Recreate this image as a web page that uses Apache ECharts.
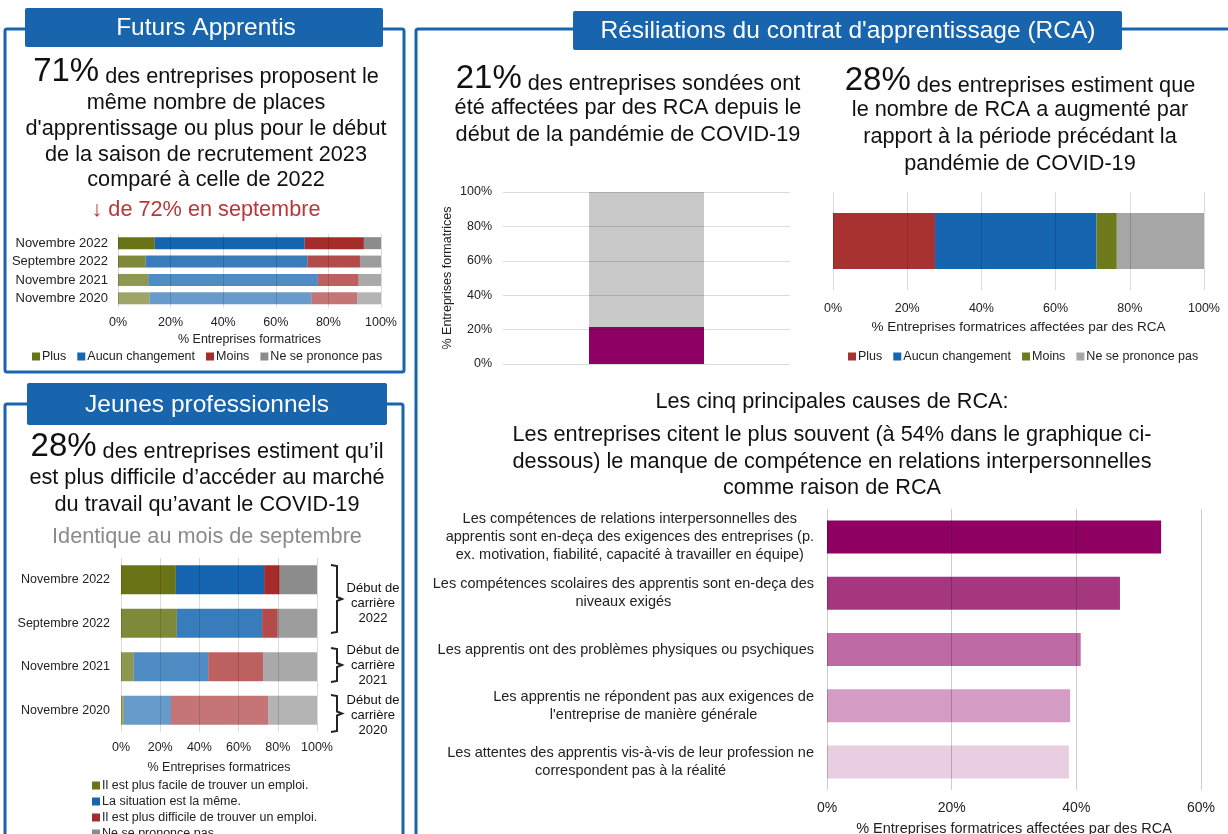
<!DOCTYPE html>
<html><head><meta charset="utf-8">
<script src="https://cdn.jsdelivr.net/npm/echarts@6/dist/echarts.min.js"></script>
<style>html,body{margin:0;padding:0;background:#fff}#c{width:1228px;height:834px}</style>
</head><body><div id="c"></div>
<script>
// ---------- DATA ----------
const periodCategories = ['Novembre 2022', 'Septembre 2022', 'Novembre 2021', 'Novembre 2020'];
const pctTicks = [0, 20, 40, 60, 80, 100];

// Futurs Apprentis
const faNames = ['Plus', 'Aucun changement', 'Moins', 'Ne se prononce pas'];
const faPlus  = [14, 10.5, 11.5, 12];
const faAucun = [57, 61.5, 64.5, 61.5];
const faMoins = [22.5, 20, 15.5, 17.5];
const faNsp   = [6.5, 8, 8.5, 9];

// Jeunes professionnels
const jpNames = ['Il est plus facile de trouver un emploi.', 'La situation est la même.', 'Il est plus difficile de trouver un emploi.', 'Ne se prononce pas.'];
const jpFacile    = [28, 28.5, 6.5, 1.5];
const jpMeme      = [45, 43.5, 38, 24];
const jpDifficile = [8, 8, 28, 49.5];
const jpNsp       = [19, 20, 27.5, 25];
const jpGroups = ['Début de\ncarrière\n2022', 'Début de\ncarrière\n2021', 'Début de\ncarrière\n2020'];

// RCA affectées
const rcaAffCategory = ['RCA'];
const rcaAffectees = [21.5];
const rcaNonAffectees = [78.5];

// Evolution du nombre de RCA
const rcaEvoNames = ['Plus', 'Aucun changement', 'Moins', 'Ne se prononce pas'];
const rcaEvoCategory = ['RCA'];
const rcaPlus  = [27.5];
const rcaAucun = [43.5];
const rcaMoins = [5.5];
const rcaNsp   = [23.5];

// Causes de RCA
const causesLabels = [
  'Les compétences de relations interpersonnelles des\napprentis sont en-deça des exigences des entreprises (p.\nex. motivation, fiabilité, capacité à travailler en équipe)',
  'Les compétences scolaires des apprentis sont en-deça des\nniveaux exigés',
  'Les apprentis ont des problèmes physiques ou psychiques',
  'Les apprentis ne répondent pas aux exigences de\nl\'entreprise de manière générale',
  'Les attentes des apprentis vis-à-vis de leur profession ne\ncorrespondent pas à la réalité'
];
const causesValues = [53.6, 47, 40.7, 39, 38.8];

// ---------- STYLE ----------
const FONT = '"Liberation Sans", Arial, sans-serif';
const BLUE = '#1865ad';
const OLIVE = '#6a7416', SBLUE = '#1565b0', RED = '#a62b2b', GREY = '#8c8c8c';
const rowOpacity = [1, 0.85, 0.75, 0.65];
const causeColors = ['#8e0062', '#a5377f', '#bd6aa5', '#d49cc4', '#e9cde1'];
const gridLine = {lineStyle: {color: 'rgba(0,0,0,0.14)', width: 1}};
const BODY = 21.7, HEAD = 24.5;

function rowItems(arr, color) {
  return arr.map((v, i) => ({value: v, itemStyle: {color: color, opacity: rowOpacity[i]}}));
}
function pctAxis(grid, extra) {
  return Object.assign({
    gridIndex: grid, type: 'value', min: 0, max: 100, interval: 20, z: 5,
    axisLine: {show: false}, axisTick: {show: false},
    splitLine: gridLine,
    axisLabel: {formatter: v => pctTicks.includes(v) ? v + '%' : '', fontSize: 12.5, color: '#222', fontFamily: FONT},
    nameTextStyle: {fontSize: 12.5, color: '#222', fontFamily: FONT}
  }, extra || {});
}

const chart = echarts.init(document.getElementById('c'), null, {renderer: 'canvas'});

function txt(x, y, text, size, color, lh) {
  const st = {x: x, y: y, text: text, fontSize: size, fontFamily: FONT, fill: color || '#111', align: 'center', verticalAlign: 'middle'};
  if (lh) st.lineHeight = lh;
  return {type: 'text', z: 10, style: st};
}
function bigLine(x, y, big, rest) {
  return {type: 'text', z: 10, style: {x: x, y: y, align: 'center', verticalAlign: 'middle',
    text: '{b|' + big + '}{n| ' + rest + '}',
    rich: {b: {fontSize: 33, fontFamily: FONT, fill: '#111', lineHeight: 36, verticalAlign: 'bottom'},
           n: {fontSize: BODY, fontFamily: FONT, fill: '#111', lineHeight: 30, verticalAlign: 'bottom'}}}};
}
function bracket(x, y1, y2) {
  const m = (y1 + y2) / 2;
  return {type: 'polyline', z: 10, shape: {points: [[x, y1], [x + 6, y1 + 1], [x + 6, m - 2], [x + 11, m], [x + 6, m + 2], [x + 6, y2 - 1], [x, y2]]},
    style: {stroke: '#222', lineWidth: 2, fill: null}};
}

const graphics = [
  // panels
  {type: 'rect', z: 1, shape: {x: 5, y: 29, width: 399, height: 343, r: 2}, style: {fill: null, stroke: BLUE, lineWidth: 3}},
  {type: 'rect', z: 1, shape: {x: 5, y: 404, width: 398, height: 460, r: 2}, style: {fill: null, stroke: BLUE, lineWidth: 3}},
  {type: 'rect', z: 1, shape: {x: 416, y: 29, width: 840, height: 840, r: 2}, style: {fill: null, stroke: BLUE, lineWidth: 3}},
  // headers
  {type: 'rect', z: 2, shape: {x: 25, y: 8, width: 358, height: 39, r: 2}, style: {fill: BLUE}},
  {type: 'rect', z: 2, shape: {x: 27, y: 383, width: 360, height: 42, r: 2}, style: {fill: BLUE}},
  {type: 'rect', z: 2, shape: {x: 573, y: 11, width: 549, height: 39, r: 2}, style: {fill: BLUE}},
  txt(206, 28, 'Futurs Apprentis', HEAD, '#fff'),
  txt(207, 405, 'Jeunes professionnels', HEAD, '#fff'),
  txt(848, 31, 'Résiliations du contrat d\'apprentissage (RCA)', HEAD, '#fff'),
  // Futurs apprentis text
  bigLine(206, 70, '71%', 'des entreprises proposent le'),
  txt(206, 103, 'même nombre de places', BODY),
  txt(206, 129, 'd\'apprentissage ou plus pour le début', BODY),
  txt(206, 155, 'de la saison de recrutement 2023', BODY),
  txt(206, 180, 'comparé à celle de 2022', BODY),
  txt(206, 210, '↓ de 72% en septembre', BODY, '#b8373a'),
  // Jeunes professionnels text
  bigLine(207, 445, '28%', 'des entreprises estiment qu’il'),
  txt(207, 478, 'est plus difficile d’accéder au marché', BODY),
  txt(207, 505, 'du travail qu’avant le COVID-19', BODY),
  txt(207, 537, 'Identique au mois de septembre', BODY, '#8a8a8a'),
  // RCA texts
  bigLine(628, 77, '21%', 'des entreprises sondées ont'),
  txt(628, 108, 'été affectées par des RCA depuis le', BODY),
  txt(628, 135, 'début de la pandémie de COVID-19', BODY),
  bigLine(1020, 79, '28%', 'des entreprises estiment que'),
  txt(1020, 110, 'le nombre de RCA a augmenté par', BODY),
  txt(1020, 137, 'rapport à la période précédant la', BODY),
  txt(1020, 164, 'pandémie de COVID-19', BODY),
  txt(832, 402, 'Les cinq principales causes de RCA:', BODY),
  txt(832, 435, 'Les entreprises citent le plus souvent (à 54% dans le graphique ci-', BODY),
  txt(832, 462, 'dessous) le manque de compétence en relations interpersonnelles', BODY),
  txt(832, 488, 'comme raison de RCA', BODY),
  // brackets
  bracket(331, 565, 633),
  bracket(331, 648, 682),
  bracket(331, 695, 732),
  txt(373, 603, jpGroups[0], 13, '#111', 15),
  txt(373, 665, jpGroups[1], 13, '#111', 15),
  txt(373, 715, jpGroups[2], 13, '#111', 15)
];

const catAxisBase = {type: 'category', inverse: true, axisLine: {show: false}, axisTick: {show: false},
  axisLabel: {fontSize: 13, color: '#222', fontFamily: FONT}};

const option = {
  animation: false,
  backgroundColor: '#fff',
  textStyle: {fontFamily: FONT},
  grid: [
    {left: 118, top: 234, width: 263, height: 73.5, outerBoundsMode: 'none', containLabel: false},   // 0 futurs apprentis
    {left: 121, top: 558, width: 196, height: 174, outerBoundsMode: 'none', containLabel: false},    // 1 jeunes pros
    {left: 503, top: 192, width: 287, height: 172, outerBoundsMode: 'none', containLabel: false},    // 2 RCA affectees
    {left: 833, top: 192, width: 371, height: 98, outerBoundsMode: 'none', containLabel: false},     // 3 RCA evolution
    {left: 827, top: 509, width: 374, height: 281, outerBoundsMode: 'none', containLabel: false}     // 4 causes
  ],
  xAxis: [
    pctAxis(0, {name: '% Entreprises formatrices', nameLocation: 'middle', nameGap: 26, axisLabel: {formatter: v => v + '%', fontSize: 12.5, color: '#222', margin: 9}}),
    pctAxis(1, {name: '% Entreprises formatrices', nameLocation: 'middle', nameGap: 29, axisLabel: {formatter: v => v + '%', fontSize: 12.5, color: '#222', margin: 9}}),
    {gridIndex: 2, type: 'category', data: rcaAffCategory, axisLine: {show: false}, axisTick: {show: false}, axisLabel: {show: false}},
    pctAxis(3, {name: '% Entreprises formatrices affectées par des RCA', nameLocation: 'middle', nameGap: 30,
      nameTextStyle: {fontSize: 13.5, color: '#222', fontFamily: FONT},
      axisLabel: {formatter: v => v + '%', fontSize: 12.5, color: '#222', margin: 12}}),
    {gridIndex: 4, type: 'value', min: 0, max: 60, interval: 20, z: 5, axisLine: {show: false}, axisTick: {show: false},
      splitLine: {lineStyle: {color: 'rgba(0,0,0,0.2)'}},
      axisLabel: {formatter: v => v + '%', fontSize: 14, color: '#222', margin: 11},
      name: '% Entreprises formatrices affectées par des RCA', nameLocation: 'middle', nameGap: 31, nameTextStyle: {fontSize: 14.5, color: '#222'}}
  ],
  yAxis: [
    Object.assign({}, catAxisBase, {gridIndex: 0, data: periodCategories, axisLabel: {fontSize: 13, color: '#222', margin: 10}}),
    Object.assign({}, catAxisBase, {gridIndex: 1, data: periodCategories, axisLabel: {fontSize: 12.5, color: '#222', margin: 11}}),
    pctAxis(2, {name: '% Entreprises formatrices', nameLocation: 'middle', nameGap: 49, nameRotate: 90, axisLabel: {formatter: v => v + '%', fontSize: 12.5, color: '#222', margin: 11}}),
    {gridIndex: 3, type: 'category', data: rcaEvoCategory, axisLine: {show: false}, axisTick: {show: false}, axisLabel: {show: false}},
    {gridIndex: 4, type: 'category', inverse: true, data: causesLabels, axisLine: {show: false}, axisTick: {show: false},
      axisLabel: {align: 'right', margin: 13, formatter: v => '{c|' + v + '}',
        rich: {c: {align: 'center', fontSize: 14.5, lineHeight: 18, color: '#222', fontFamily: FONT}}}}
  ],
  legend: [
    {left: 32, top: 350, itemWidth: 8, itemHeight: 8, itemGap: 11, icon: 'rect', padding: 0,
      textStyle: {fontSize: 12.5, color: '#222', padding: [0, 0, 0, -3]}, data: faNames},
    {left: 92, top: 779, height: 90, orient: 'vertical', itemWidth: 8, itemHeight: 8, itemGap: 3, icon: 'rect', padding: 0,
      textStyle: {fontSize: 12.5, color: '#222', padding: [0, 0, 0, -3]}, data: jpNames},
    {left: 848, top: 350, itemWidth: 8, itemHeight: 8, itemGap: 11, icon: 'rect', padding: 0,
      textStyle: {fontSize: 12.5, color: '#222', padding: [0, 0, 0, -3]}, data: rcaEvoNames.map(n => n + '\u200b')}
  ],
  series: [
    // Futurs apprentis
    {name: faNames[0], type: 'bar', stack: 'fa', xAxisIndex: 0, yAxisIndex: 0, barWidth: 12, color: OLIVE, data: rowItems(faPlus, OLIVE)},
    {name: faNames[1], type: 'bar', stack: 'fa', xAxisIndex: 0, yAxisIndex: 0, barWidth: 12, color: SBLUE, data: rowItems(faAucun, SBLUE)},
    {name: faNames[2], type: 'bar', stack: 'fa', xAxisIndex: 0, yAxisIndex: 0, barWidth: 12, color: RED, data: rowItems(faMoins, RED)},
    {name: faNames[3], type: 'bar', stack: 'fa', xAxisIndex: 0, yAxisIndex: 0, barWidth: 12, color: GREY, data: rowItems(faNsp, GREY)},
    // Jeunes pros
    {name: jpNames[0], type: 'bar', stack: 'jp', xAxisIndex: 1, yAxisIndex: 1, barWidth: 29, color: OLIVE, data: rowItems(jpFacile, OLIVE)},
    {name: jpNames[1], type: 'bar', stack: 'jp', xAxisIndex: 1, yAxisIndex: 1, barWidth: 29, color: SBLUE, data: rowItems(jpMeme, SBLUE)},
    {name: jpNames[2], type: 'bar', stack: 'jp', xAxisIndex: 1, yAxisIndex: 1, barWidth: 29, color: RED, data: rowItems(jpDifficile, RED)},
    {name: jpNames[3], type: 'bar', stack: 'jp', xAxisIndex: 1, yAxisIndex: 1, barWidth: 29, color: GREY, data: rowItems(jpNsp, GREY)},
    // RCA affectees
    {name: 'Affectées', type: 'bar', stack: 'aff', xAxisIndex: 2, yAxisIndex: 2, barWidth: 115, color: '#8e0064', data: rcaAffectees},
    {name: 'Non affectées', type: 'bar', stack: 'aff', xAxisIndex: 2, yAxisIndex: 2, barWidth: 115, color: '#c9c9c9', data: rcaNonAffectees},
    // RCA evolution
    {name: rcaEvoNames[0] + '\u200b', type: 'bar', stack: 'evo', xAxisIndex: 3, yAxisIndex: 3, barWidth: 56, color: '#a83232', data: rcaPlus},
    {name: rcaEvoNames[1] + '\u200b', type: 'bar', stack: 'evo', xAxisIndex: 3, yAxisIndex: 3, barWidth: 56, color: '#1565b0', data: rcaAucun},
    {name: rcaEvoNames[2] + '\u200b', type: 'bar', stack: 'evo', xAxisIndex: 3, yAxisIndex: 3, barWidth: 56, color: '#6e7a1c', data: rcaMoins},
    {name: rcaEvoNames[3] + '\u200b', type: 'bar', stack: 'evo', xAxisIndex: 3, yAxisIndex: 3, barWidth: 56, color: '#a6a6a6', data: rcaNsp},
    // causes
    {name: 'Causes', type: 'bar', xAxisIndex: 4, yAxisIndex: 4, barWidth: 33,
      data: causesValues.map((v, i) => ({value: v, itemStyle: {color: causeColors[i]}}))}
  ],
  graphic: graphics
};
chart.setOption(option);
</script>
</body></html>
